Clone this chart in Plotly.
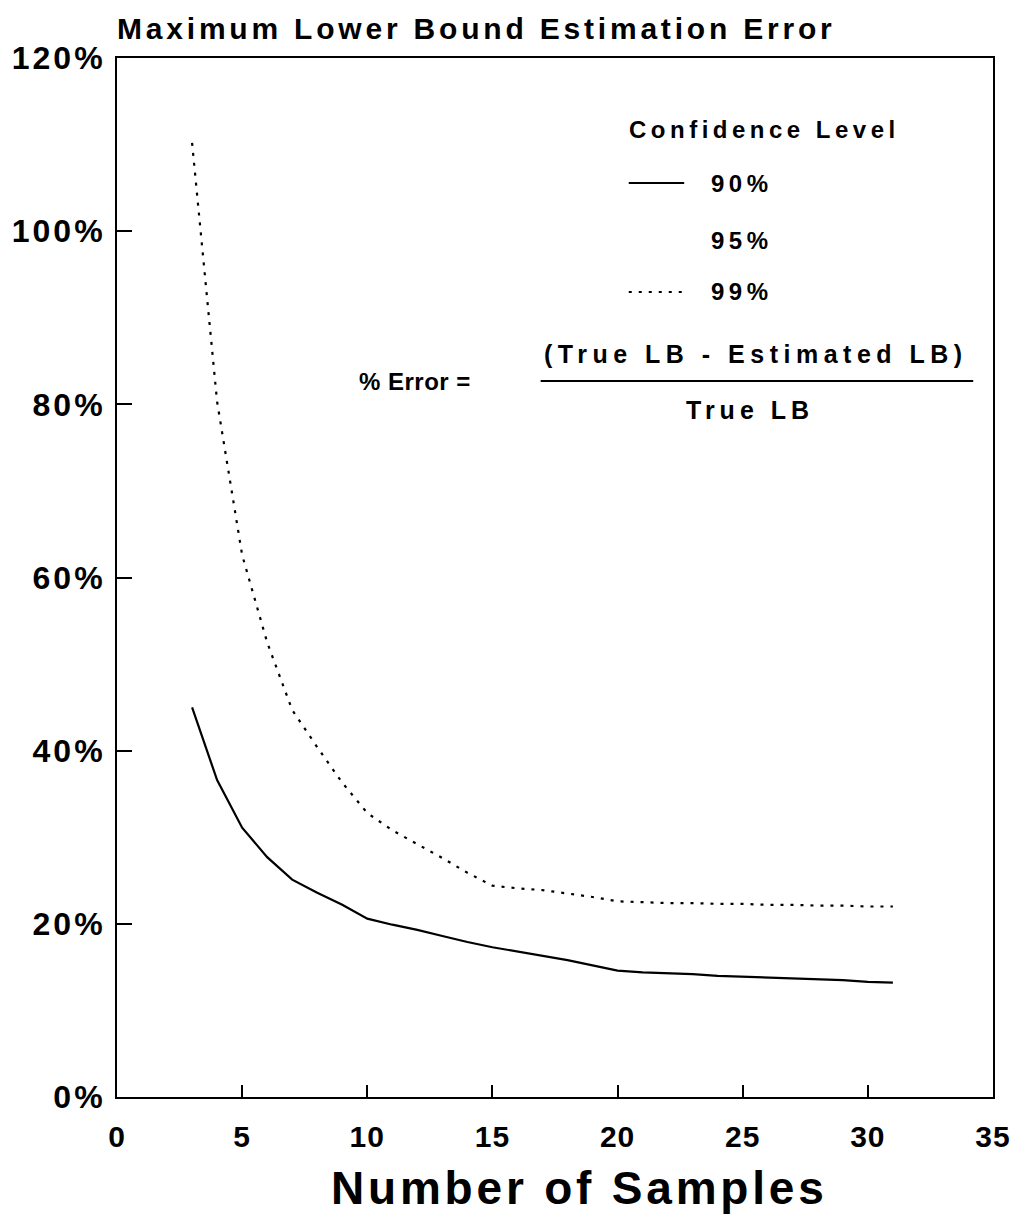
import plotly.graph_objects as go

# ---- data ----
samples = list(range(3, 32))
err_90 = [45.0, 36.6, 31.1, 27.7, 25.1, 23.6, 22.2, 20.6, 19.9, 19.3, 18.6, 17.9,
          17.3, 16.8, 16.3, 15.8, 15.2, 14.6, 14.4, 14.3, 14.2, 14.0, 13.9, 13.8,
          13.7, 13.6, 13.5, 13.3, 13.2]
err_99 = [110.2, 80.3, 62.6, 52.5, 44.7, 40.4, 36.3, 32.8, 30.8, 29.2, 27.6, 25.9,
          24.4, 24.1, 23.9, 23.5, 23.1, 22.6, 22.5, 22.4, 22.4, 22.3, 22.3, 22.2,
          22.2, 22.1, 22.1, 22.0, 22.0]
x_ticks = [0, 5, 10, 15, 20, 25, 30, 35]
y_ticks = [0, 20, 40, 60, 80, 100, 120]
y_ticklabels = ["0%", "20%", "40%", "60%", "80%", "100%", "120%"]
legend_labels = ["90%", "95%", "99%"]

FONT = "Liberation Sans, Arial, sans-serif"
L, R, T, B = 117, 21, 58, 122
W, H = 1023, 1219
PW, PH = W - L - R, H - T - B


def sp(text, ls=5):
    return f'<span style="letter-spacing:{ls}px">{text}</span>'


def px_x(px):
    return (px - L) / PW


def px_y(py):
    return (H - B - py) / PH


fig = go.Figure()
fig.add_trace(go.Scatter(x=samples, y=err_90, mode="lines",
                         line=dict(color="black", width=2.2), showlegend=False))
fig.add_trace(go.Scatter(x=samples, y=err_99, mode="lines",
                         line=dict(color="black", width=2.2, dash="3px,7px"),
                         showlegend=False))

fig.update_layout(
    width=W, height=H,
    margin=dict(l=L, r=R, t=T, b=B),
    paper_bgcolor="white", plot_bgcolor="white",
    font=dict(family=FONT, color="black"),
    title=dict(text=sp("<b>Maximum Lower Bound Estimation Error</b>", 3.8),
               x=L / W, xanchor="left", xref="container",
               y=1 - 28 / H, yanchor="middle", yref="container",
               font=dict(size=30, family=FONT, color="black")),
)

fig.update_xaxes(
    range=[0, 35], tickmode="array", tickvals=x_ticks,
    ticktext=[sp(f"<b>{v}</b>", 1) for v in x_ticks],
    ticks="inside", ticklen=12, tickwidth=1.5, tickcolor="black",
    showline=True, linecolor="black", linewidth=2, mirror=True,
    showgrid=False, zeroline=False,
    tickfont=dict(size=30, family=FONT), ticklabelstandoff=12,
)
fig.update_yaxes(
    range=[0, 120], tickmode="array", tickvals=y_ticks,
    ticktext=[sp(f"<b>{t}</b>", 3) for t in y_ticklabels],
    ticks="inside", ticklen=15, tickwidth=1.5, tickcolor="black",
    showline=True, linecolor="black", linewidth=2, mirror=True,
    showgrid=False, zeroline=False,
    tickfont=dict(size=32, family=FONT), ticklabelstandoff=3,
)

# x-axis title
fig.add_annotation(x=px_x(584), y=px_y(1188), xref="paper", yref="paper",
                   text=sp("<b>Number of Samples</b>", 3.8), showarrow=False,
                   xanchor="center", yanchor="middle",
                   font=dict(size=46, family=FONT, color="black"))

# ---- legend drawn as annotations + sample lines ----
ann_font = dict(size=24, family=FONT, color="black")
fig.add_annotation(x=px_x(632), y=px_y(130), xref="paper", yref="paper",
                   text=sp("<b>Confidence Level</b>", 4.5), showarrow=False,
                   xanchor="left", yanchor="middle", font=ann_font)
legend_rows = [183, 240, 292]
legend_dash = ["solid", None, "3px,7px"]
for lab, row, dash in zip(legend_labels, legend_rows, legend_dash):
    fig.add_annotation(x=px_x(715), y=px_y(row), xref="paper", yref="paper",
                       text=sp(f"<b>{lab}</b>", 4.5), showarrow=False,
                       xanchor="left", yanchor="middle", font=ann_font)
    if dash is not None:
        fig.add_shape(type="line", xref="paper", yref="paper",
                      x0=px_x(634), x1=px_x(690), y0=px_y(row), y1=px_y(row),
                      line=dict(color="black", width=1.8, dash=dash))

# ---- formula ----
fig.add_annotation(x=px_x(418), y=px_y(382), xref="paper", yref="paper",
                   text=sp("<b>% Error =</b>", 0.5), showarrow=False,
                   xanchor="center", yanchor="middle",
                   font=dict(size=24, family=FONT, color="black"))
fig.add_annotation(x=px_x(763), y=px_y(354), xref="paper", yref="paper",
                   text=sp("<b>(True LB - Estimated LB)</b>", 5.5), showarrow=False,
                   xanchor="center", yanchor="middle",
                   font=dict(size=25, family=FONT, color="black"))
fig.add_annotation(x=px_x(757), y=px_y(410), xref="paper", yref="paper",
                   text=sp("<b>True LB</b>", 5), showarrow=False,
                   xanchor="center", yanchor="middle",
                   font=dict(size=25, family=FONT, color="black"))
fig.add_shape(type="line", xref="paper", yref="paper",
              x0=px_x(545), x1=px_x(982), y0=px_y(381), y1=px_y(381),
              line=dict(color="black", width=1.8))

fig.write_html("out.html")
